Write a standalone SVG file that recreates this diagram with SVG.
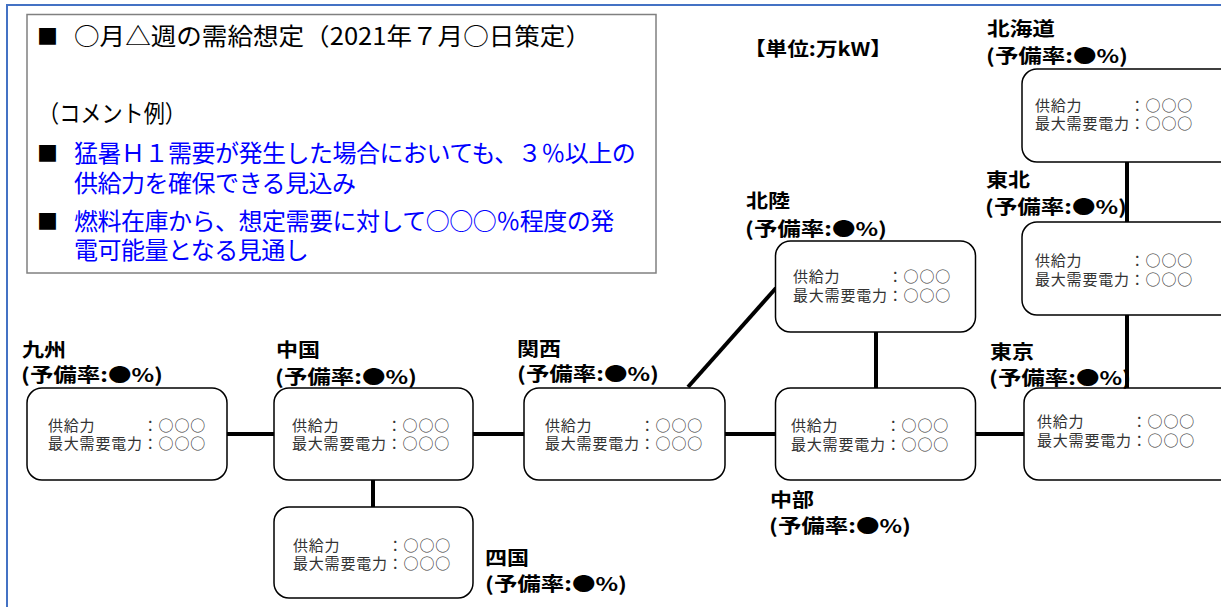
<svg xmlns="http://www.w3.org/2000/svg" width="1221" height="607" viewBox="0 0 1221 607">
<style>
text{font-family:"Noto Sans CJK JP","Noto Sans CJK SC",sans-serif;}
.frame{fill:#fff;stroke:#4472C4;stroke-width:2}
.cbox{fill:#fff;stroke:#808080;stroke-width:1.5}
.box{fill:#fff;stroke:#000;stroke-width:1.5}
.conn line{stroke:#000;stroke-width:4}
.name{font-size:19px;font-weight:700;fill:#000}
.val{font-size:15px;fill:#333;letter-spacing:0.8px}
.cm{font-size:24px;fill:#000}
.blue{fill:#0000ff;letter-spacing:-0.5px}
.bul{font-size:21px;fill:#000}
</style>
<rect x="0" y="0" width="1221" height="607" fill="#fff"/>
<rect class="frame" x="7" y="5" width="1240" height="640"/>

<g id="comment">
<rect class="cbox" x="27" y="14.5" width="629" height="258.5"/>
<text class="bul" x="37" y="44">■</text>
<text class="cm" x="74" y="45" textLength="517" lengthAdjust="spacingAndGlyphs">○月△週の需給想定（2021年７月○日策定）</text>
<text class="cm" x="38" y="122" textLength="148" lengthAdjust="spacingAndGlyphs">（コメント例）</text>
<text class="bul" x="37" y="161">■</text>
<text class="cm blue"><tspan x="74" y="162">猛暑Ｈ１需要が発生した場合においても、３％以上の</tspan><tspan x="74" y="192">供給力を確保できる見込み</tspan></text>
<text class="bul" x="37" y="229">■</text>
<text class="cm blue"><tspan x="74" y="230">燃料在庫から、想定需要に対して○○○％程度の発</tspan><tspan x="74" y="259">電可能量となる見通し</tspan></text>
</g>

<g id="unit">
<text class="name" x="744" y="56" textLength="148" lengthAdjust="spacingAndGlyphs">【単位:万kW】</text>
</g>

<g id="connectors" class="conn">
<line x1="227" y1="434" x2="274" y2="434"/>
<line x1="473" y1="434" x2="524" y2="434"/>
<line x1="725" y1="434" x2="776" y2="434"/>
<line x1="975" y1="434" x2="1024" y2="434"/>
<line x1="373" y1="480" x2="373" y2="507"/>
<line x1="688" y1="387" x2="776" y2="288"/>
<line x1="876" y1="332" x2="876" y2="388"/>
<line x1="1127" y1="162" x2="1127" y2="222"/>
<line x1="1127" y1="315" x2="1127" y2="388"/>
</g>

<g id="kyushu">
<rect class="box" x="27" y="388" width="200" height="92" rx="15"/>
<text class="name"><tspan x="22" y="357" textLength="44" lengthAdjust="spacingAndGlyphs">九州</tspan><tspan x="21" y="382" textLength="142" lengthAdjust="spacingAndGlyphs">(予備率:●%)</tspan></text>
<text class="val"><tspan x="48" y="431">供給力　　　：○○○</tspan><tspan x="48" y="449">最大需要電力：○○○</tspan></text>
</g>

<g id="chugoku">
<rect class="box" x="274" y="388" width="199" height="92" rx="15"/>
<text class="name"><tspan x="276" y="357" textLength="44" lengthAdjust="spacingAndGlyphs">中国</tspan><tspan x="275" y="384" textLength="142" lengthAdjust="spacingAndGlyphs">(予備率:●%)</tspan></text>
<text class="val"><tspan x="292" y="431">供給力　　　：○○○</tspan><tspan x="292" y="449">最大需要電力：○○○</tspan></text>
</g>

<g id="shikoku">
<rect class="box" x="274" y="507" width="199" height="91" rx="15"/>
<text class="name"><tspan x="485" y="565" textLength="44" lengthAdjust="spacingAndGlyphs">四国</tspan><tspan x="485" y="591" textLength="142" lengthAdjust="spacingAndGlyphs">(予備率:●%)</tspan></text>
<text class="val"><tspan x="293" y="551">供給力　　　：○○○</tspan><tspan x="293" y="569">最大需要電力：○○○</tspan></text>
</g>

<g id="kansai">
<rect class="box" x="524" y="388" width="201" height="92" rx="15"/>
<text class="name"><tspan x="517" y="356" textLength="44" lengthAdjust="spacingAndGlyphs">関西</tspan><tspan x="517" y="381" textLength="142" lengthAdjust="spacingAndGlyphs">(予備率:●%)</tspan></text>
<text class="val"><tspan x="545" y="431">供給力　　　：○○○</tspan><tspan x="545" y="449">最大需要電力：○○○</tspan></text>
</g>

<g id="chubu">
<rect class="box" x="775.5" y="388" width="200" height="92" rx="15"/>
<text class="name"><tspan x="770" y="507" textLength="44" lengthAdjust="spacingAndGlyphs">中部</tspan><tspan x="769" y="533" textLength="142" lengthAdjust="spacingAndGlyphs">(予備率:●%)</tspan></text>
<text class="val"><tspan x="791" y="431">供給力　　　：○○○</tspan><tspan x="791" y="450">最大需要電力：○○○</tspan></text>
</g>

<g id="hokuriku">
<rect class="box" x="775.5" y="241" width="200" height="91" rx="15"/>
<text class="name"><tspan x="746" y="208" textLength="44" lengthAdjust="spacingAndGlyphs">北陸</tspan><tspan x="745" y="236" textLength="142" lengthAdjust="spacingAndGlyphs">(予備率:●%)</tspan></text>
<text class="val"><tspan x="793" y="282">供給力　　　：○○○</tspan><tspan x="793" y="301">最大需要電力：○○○</tspan></text>
</g>

<g id="tokyo">
<rect class="box" x="1024" y="388" width="220" height="92" rx="15"/>
<text class="name"><tspan x="990" y="359" textLength="44" lengthAdjust="spacingAndGlyphs">東京</tspan><tspan x="989" y="385" textLength="142" lengthAdjust="spacingAndGlyphs">(予備率:●%)</tspan></text>
<text class="val"><tspan x="1037" y="427">供給力　　　：○○○</tspan><tspan x="1037" y="446">最大需要電力：○○○</tspan></text>
</g>

<g id="tohoku">
<rect class="box" x="1022" y="222" width="220" height="93" rx="15"/>
<text class="name"><tspan x="986" y="187" textLength="44" lengthAdjust="spacingAndGlyphs">東北</tspan><tspan x="985" y="214" textLength="142" lengthAdjust="spacingAndGlyphs">(予備率:●%)</tspan></text>
<text class="val"><tspan x="1035" y="266">供給力　　　：○○○</tspan><tspan x="1035" y="285">最大需要電力：○○○</tspan></text>
</g>

<g id="hokkaido">
<rect class="box" x="1022" y="69" width="220" height="93" rx="15"/>
<text class="name"><tspan x="987" y="36" textLength="68" lengthAdjust="spacingAndGlyphs">北海道</tspan><tspan x="986" y="63" textLength="142" lengthAdjust="spacingAndGlyphs">(予備率:●%)</tspan></text>
<text class="val"><tspan x="1035" y="111">供給力　　　：○○○</tspan><tspan x="1035" y="129">最大需要電力：○○○</tspan></text>
</g>
</svg>
